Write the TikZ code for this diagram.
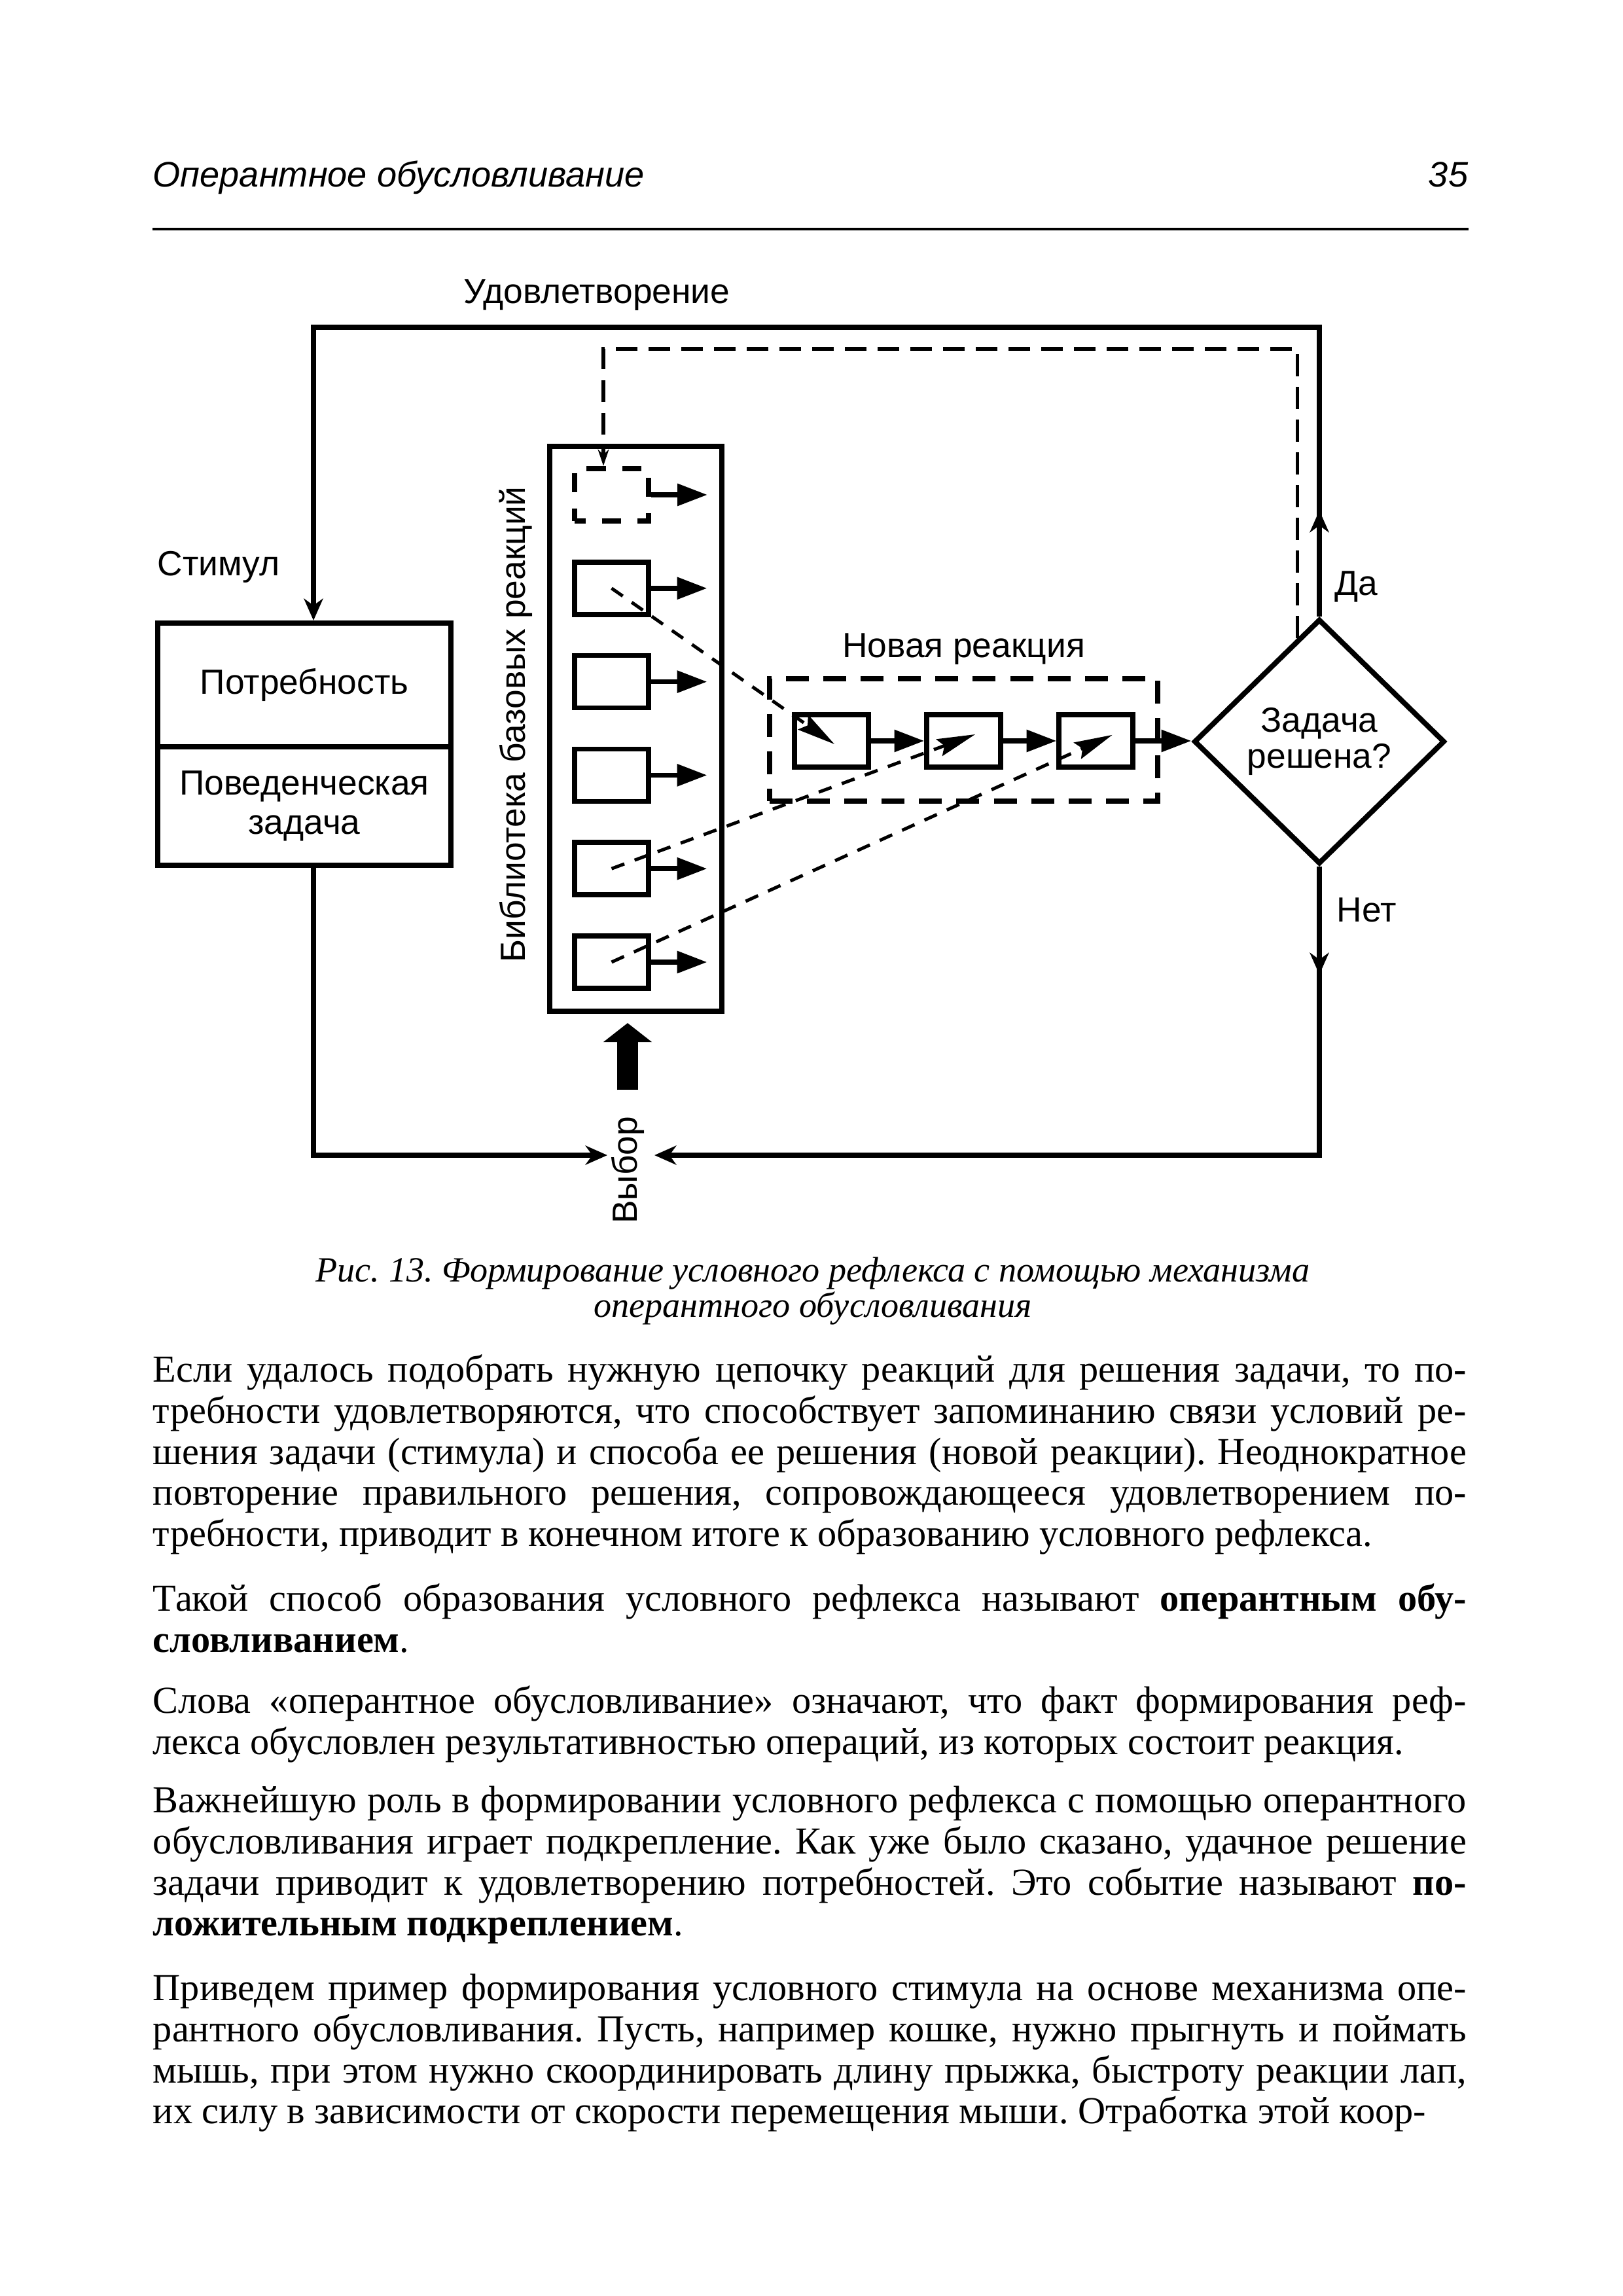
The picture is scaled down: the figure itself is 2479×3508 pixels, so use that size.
\documentclass[tikz,border=0pt]{standalone}
\usepackage{fontspec}
\setmainfont{Liberation Serif}
\setsansfont{Liberation Sans}
\usetikzlibrary{arrows.meta,positioning,shapes.geometric}
\setlength{\parindent}{0pt}
\hyphenpenalty=10000
\tolerance=10000
\frenchspacing

\begin{document}
\begin{tikzpicture}[
  x=0.24pt, y=-0.24pt,
  node distance=19.6pt,
  lbl/.style={font=\sffamily\fontsize{12.8}{14.4}\selectfont, inner sep=0pt},
  box/.style={draw, line width=1.9pt, minimum width=107.5pt, align=center, inner sep=0pt, font=\sffamily\fontsize{12.8}{14.4}\selectfont},
  lib/.style={draw, line width=1.9pt, minimum width=63.1pt, minimum height=207.1pt},
  react/.style={draw, line width=1.8pt, minimum width=27.1pt, minimum height=19.2pt, inner sep=0pt},
  blank/.style={react, line width=2pt, dash pattern=on 7pt off 6pt, dash phase=3pt},
  frame/.style={draw, line width=1.8pt, dash pattern=on 8.4pt off 5.3pt, minimum width=142.3pt, minimum height=44.9pt},
  decision/.style={diamond, draw, line width=1.9pt, minimum width=92pt, minimum height=89.8pt, inner sep=0pt, align=center, font=\sffamily\fontsize{12.8}{13.4}\selectfont},
  line/.style={line width=1.9pt, -{Stealth[length=8pt,width=7pt,inset=2.5pt]}},
  flow/.style={line width=1.8pt, -{Triangle[length=11pt,width=7.8pt]}},
  pick/.style={line width=1.2pt, dash pattern=on 5pt off 4pt, -{Stealth[length=14pt,width=6.5pt,inset=2pt]}},
  back/.style={line width=1.3pt, dash pattern=on 8pt off 4pt, -{Stealth[length=6pt,width=4pt]}},
  choose/.style={line width=7.9pt, -{Triangle[length=7pt,width=17.5pt]}},
  para/.style={anchor=north west, inner sep=0pt, text width=481.7pt, align=justify, font=\rmfamily\fontsize{14}{15.1}\selectfont, execute at begin node=\rule{0pt}{20pt}}
]
\useasboundingbox[fill=white] (0,0) rectangle (2479,3508);

% header
\node[anchor=base west, inner sep=0pt, font=\sffamily\itshape\fontsize{13}{15}\selectfont] (head) at (233,286) {Оперантное обусловливание};
\node[anchor=base east, inner sep=0pt, font=\sffamily\itshape\fontsize{13}{15}\selectfont] (folio) at (2244,286) {35};
\draw[line width=1pt] (233,350) -- (2244,350);

% diagram
\coordinate (tl) at (479,500);
\coordinate (tr) at (2016,500);
\coordinate (bl) at (479,1765);
\coordinate (br) at (2016,1765);
\coordinate (yesTip) at (2016,780);
\coordinate (noTip) at (2016,1489);
\coordinate (inL) at (928,1765);
\coordinate (inR) at (1000,1765);
\coordinate (backTop) at (922,533);

\node[box, minimum height=45.4pt] (need) at (465,1046.5) {Потребность};
\node[box, minimum height=43.4pt] (task) at (465,1231.5) {Поведенческая\\задача};
\node[lib] (lib) at (971.5,1113.5) {};
\node[lbl, rotate=90] (libname) at (788,1107) {Библиотека базовых реакций};
\node[blank] (r1) at (934.5,756) {};
\foreach \i in {2,...,6}
  \node[react] (r\i) at (934.5,{756+142.8*(\i-1)}) {};
\foreach \i in {1,...,6}
  \draw[flow] (r\i.east) -- ++(20.6pt,0);

\node[frame] (newbox) at (1472.5,1130.5) {};
\node[lbl, above=4pt of newbox] (newname) {Новая реакция};
\node[react] (a) at (1270.5,1132) {};
\node[react, right=of a] (b) {};
\node[react, right=of b] (c) {};
\node[decision] (dec) at (2016,1133) {Задача\\решена?};

\node[lbl, anchor=base] (sat) at (912,464) {Удовлетворение};
\node[lbl, anchor=base west] (stim) at (240,880) {Стимул};
\node[lbl, anchor=base west] (yes) at (2039,910) {Да};
\node[lbl, anchor=base west] (no) at (2042,1408) {Нет};
\node[lbl, rotate=90] (choice) at (959,1788) {Выбор};

\draw[flow] (a) -- (b);
\draw[flow] (b) -- (c);
\draw[flow] (c.east) -- (c.east -| dec.west);

\draw[pick] (r2.center) -- ([xshift=1.1pt,yshift=-1.2pt]a.center);
\draw[pick] (r5.center) -- ([xshift=4.2pt,yshift=2.4pt]b.center);
\draw[pick] (r6.center) -- ([xshift=6pt,yshift=2.2pt]c.center);

\draw[line] (dec.north) -- (tr) -- (tl) -- (tl |- need.north);
\draw[line] (dec.north) -- (yesTip);
\draw[line] (dec.south) -- (noTip);
\draw[line] (tl |- task.south) -- (bl) -- (inL);
\draw[line] (dec.south) -- (br) -- (inR);
\draw[back] (dec.102) |- (backTop) -- (backTop |- r1.north);
\draw[choose, shorten <=9.6pt, shorten >=3.4pt] (choice.east) -- (choice.east |- lib.south);

% caption
\node[anchor=base, inner sep=0pt, font=\rmfamily\itshape\fontsize{13}{15}\selectfont] (cap1) at (1242,1958) {Рис. 13. Формирование условного рефлекса с помощью механизма};
\node[anchor=base, inner sep=0pt, font=\rmfamily\itshape\fontsize{13}{15}\selectfont] (cap2) at (1242,2012) {оперантного обусловливания};

% text
\node[para] (p1) at (233,2027) {Если удалось подобрать нужную цепочку реакций для решения задачи, то по-\linebreak
требности удовлетворяются, что способствует запоминанию связи условий ре-\linebreak
шения задачи (стимула) и способа ее решения (новой реакции). Неоднократное\linebreak
повторение правильного решения, сопровождающееся удовлетворением по-\linebreak
требности, приводит в конечном итоге к образованию условного рефлекса.};
\node[para] (p2) at (233,2377) {Такой способ образования условного рефлекса называют \textbf{оперантным обу-}\linebreak
\textbf{словливанием}.};
\node[para] (p3) at (233,2533) {Слова «оперантное обусловливание» означают, что факт формирования реф-\linebreak
лекса обусловлен результативностью операций, из которых состоит реакция.};
\node[para] (p4) at (233,2685) {Важнейшую роль в формировании условного рефлекса с помощью оперантного\linebreak
обусловливания играет подкрепление. Как уже было сказано, удачное решение\linebreak
задачи приводит к удовлетворению потребностей. Это событие называют \textbf{по-}\linebreak
\textbf{ложительным подкреплением}.};
\node[para] (p5) at (233,2972) {Приведем пример формирования условного стимула на основе механизма опе-\linebreak
рантного обусловливания. Пусть, например кошке, нужно прыгнуть и поймать\linebreak
мышь, при этом нужно скоординировать длину прыжка, быстроту реакции лап,\linebreak
их силу в зависимости от скорости перемещения мыши. Отработка этой коор-\parfillskip=0pt};
\end{tikzpicture}
\end{document}
